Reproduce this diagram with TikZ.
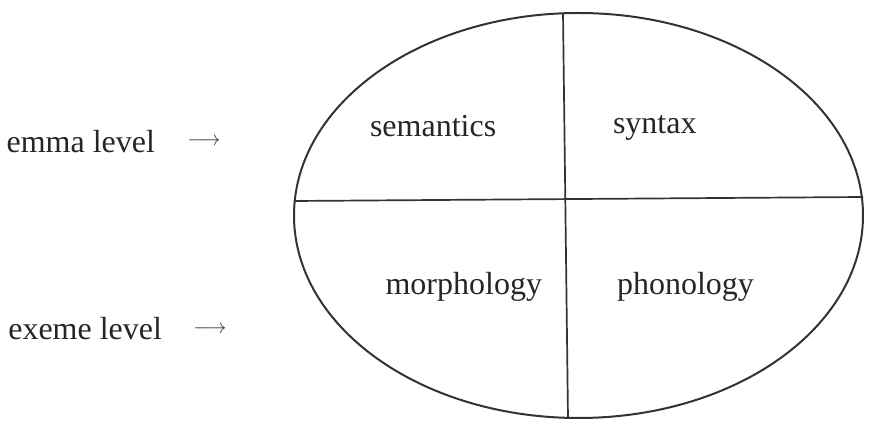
\documentclass[tikz,border=0pt]{standalone}
\usepackage{fontspec}
\setmainfont{Liberation Serif}
\begin{document}
\begin{tikzpicture}[x=1pt,y=-1pt,
  lbl/.style={inner sep=0pt,outer sep=0pt,font=\fontsize{32}{38}\selectfont,text=black!85},
  arr/.style={inner sep=0pt,outer sep=0pt,font=\fontsize{21}{26}\selectfont,text=black!80},
  ln/.style={draw=black!80,line width=2pt}]
\useasboundingbox (0,0) rectangle (873,435);
% ellipse
\draw[ln] (578.5,215.5) ellipse [x radius=284.5, y radius=202.5];
\coordinate (top) at (563,13);
\coordinate (bot) at (568,418);
\coordinate (lft) at (294,201);
\coordinate (rgt) at (863,197);
\draw[ln,line width=1.7pt] (top) -- (bot);
\draw[ln,line width=1.7pt] (lft) -- (rgt);
% quadrant labels
\node[lbl,anchor=base west] (sem) at (370,137) {semantics};
\node[lbl,anchor=base west] (syn) at (613,134) {syntax};
\node[lbl,anchor=base east] (mor) at (542,295) {morphology};
\node[lbl,anchor=base west] (pho) at (617,295) {phonology};
% level labels
\node[lbl,anchor=base east] (lem) at (155,153) {emma level};
\node[arr] (lemarr) at (204,142) {$\longrightarrow$};
\node[lbl,anchor=base east] (lex) at (162,340) {exeme level};
\node[arr] (lexarr) at (210,330) {$\longrightarrow$};
\end{tikzpicture}
\end{document}
